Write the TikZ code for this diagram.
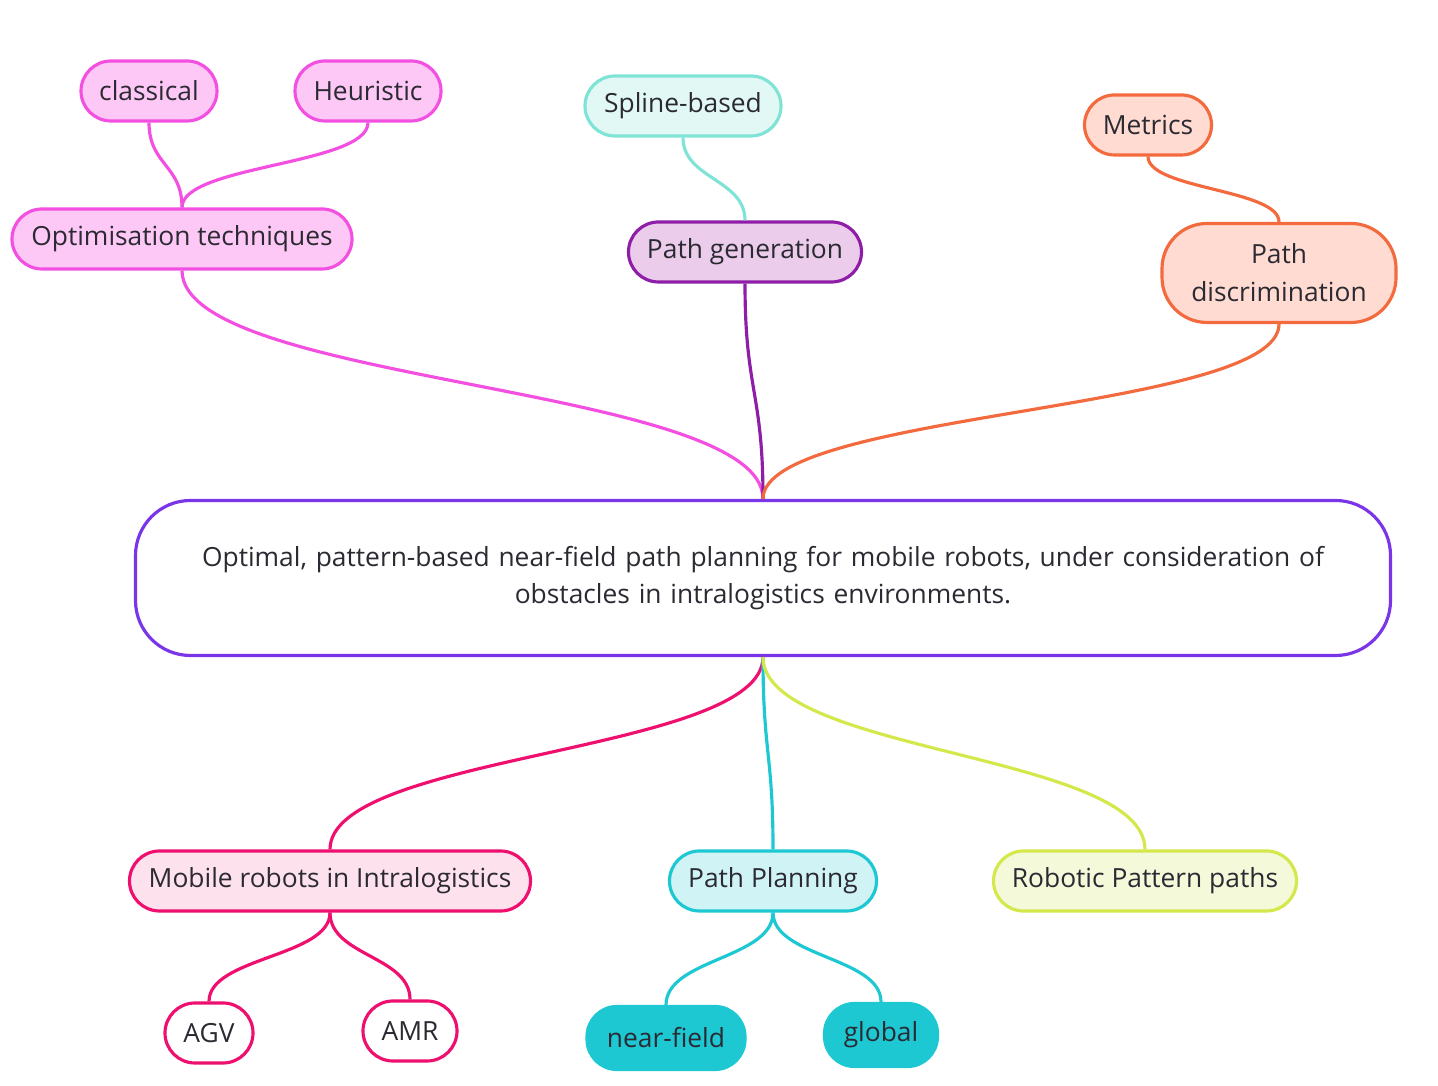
\documentclass[tikz,border=0pt]{standalone}
\usepackage{fontspec}
\setmainfont{Open Sans}
\usepackage{xcolor}
\usetikzlibrary{calc}
\definecolor{mtext}{HTML}{2B2A33}
\definecolor{mpink}{HTML}{F350E2}
\definecolor{mpinkbg}{HTML}{FDC8F5}
\definecolor{mteal}{HTML}{7FE3D5}
\definecolor{mtealbg}{HTML}{E2F8F5}
\definecolor{mpurple}{HTML}{8E1DA8}
\definecolor{mpurplebg}{HTML}{EBCDEB}
\definecolor{morange}{HTML}{F26A3D}
\definecolor{morangebg}{HTML}{FFDBD2}
\definecolor{mviolet}{HTML}{7B35E8}
\definecolor{mcrimson}{HTML}{EE0F6F}
\definecolor{mcrimsonbg}{HTML}{FDE2EE}
\definecolor{mcyan}{HTML}{1DC8D2}
\definecolor{mcyanbg}{HTML}{D0F4F6}
\definecolor{mlime}{HTML}{D4E84C}
\definecolor{mlimebg}{HTML}{F3F9D9}
\tikzset{
  pill/.style={draw, line width=1.8pt, rounded corners=0.6cm, minimum height=1.2cm,
    inner xsep=0.1cm, inner ysep=0.1cm, text=mtext, font=\fontsize{15}{21.5}\selectfont},
  branch/.style={line width=1.8pt,
    to path={let \p1=(\tikztostart), \p2=(\tikztotarget), \p3=($(\p1)!0.5!(\p2)$) in
      .. controls (\x1,\y3) and (\x2,\y3) .. (\tikztotarget)}},
}

\begin{document}
\begin{tikzpicture}[x=1cm, y=1cm]
\useasboundingbox (0,0) rectangle (28.76,21.72);
% central topic
\node[pill, draw=mviolet, fill=white, rounded corners=1.1cm, minimum width=25.1cm,
  minimum height=3.1cm, align=center, text width=23.4cm] (goal) at (15.26,10.16)
  {Optimal, pattern-based near-field path planning for mobile robots, under consideration of\\obstacles in intralogistics environments.};
% upper branches
\node[pill, draw=mpink, fill=mpinkbg, minimum width=6.8cm] (optim) at (3.64,16.94) {Optimisation techniques};
\node[pill, draw=mpink, fill=mpinkbg, minimum width=2.72cm] (classic) at (2.98,19.90) {classical};
\node[pill, draw=mpink, fill=mpinkbg, minimum width=2.92cm] (heur) at (7.36,19.90) {Heuristic};
\node[pill, draw=mpurple, fill=mpurplebg, minimum width=4.66cm] (pathgen) at (14.90,16.68) {Path generation};
\node[pill, draw=mteal, fill=mtealbg, minimum width=3.92cm] (spline) at (13.66,19.60) {Spline-based};
\node[pill, draw=morange, fill=morangebg, minimum width=4.68cm, minimum height=1.98cm,
  rounded corners=0.9cm, align=center] (pathdisc) at (25.58,16.26) {Path\\discrimination};
\node[pill, draw=morange, fill=morangebg, minimum width=2.54cm] (metrics) at (22.96,19.22) {Metrics};
% lower branches
\node[pill, draw=mcrimson, fill=mcrimsonbg, minimum width=8.02cm] (mobile) at (6.60,4.10) {Mobile robots in Intralogistics};
\node[pill, draw=mcrimson, fill=white, minimum width=1.76cm] (agv) at (4.18,1.06) {AGV};
\node[pill, draw=mcrimson, fill=white, minimum width=1.88cm] (amr) at (8.20,1.10) {AMR};
\node[pill, draw=mcyan, fill=mcyanbg, minimum width=4.14cm] (planning) at (15.46,4.10) {Path Planning};
\node[pill, draw=mcyan, fill=mcyan, minimum width=3.16cm, minimum height=1.26cm] (nearf) at (13.32,0.96) {near-field};
\node[pill, draw=mcyan, fill=mcyan, minimum width=2.26cm, minimum height=1.26cm] (global) at (17.62,1.02) {global};
\node[pill, draw=mlime, fill=mlimebg, minimum width=6.06cm] (pattern) at (22.90,4.10) {Robotic Pattern paths};
% connectors
\draw[branch, mpink] (classic.south) to (optim.north);
\draw[branch, mpink] (heur.south) to (optim.north);
\draw[branch, mteal] (spline.south) to (pathgen.north);
\draw[branch, morange] (metrics.south) to (pathdisc.north);
\draw[branch, mpink] (optim.south) to (goal.north);
\draw[branch, mpurple] (pathgen.south) to (goal.north);
\draw[branch, morange] (pathdisc.south) to (goal.north);
\draw[branch, mcrimson] (goal.south) to (mobile.north);
\draw[branch, mcyan] (goal.south) to (planning.north);
\draw[branch, mlime] (goal.south) to (pattern.north);
\draw[branch, mcrimson] (mobile.south) to (agv.north);
\draw[branch, mcrimson] (mobile.south) to (amr.north);
\draw[branch, mcyan] (planning.south) to (nearf.north);
\draw[branch, mcyan] (planning.south) to (global.north);
\end{tikzpicture}
\end{document}
